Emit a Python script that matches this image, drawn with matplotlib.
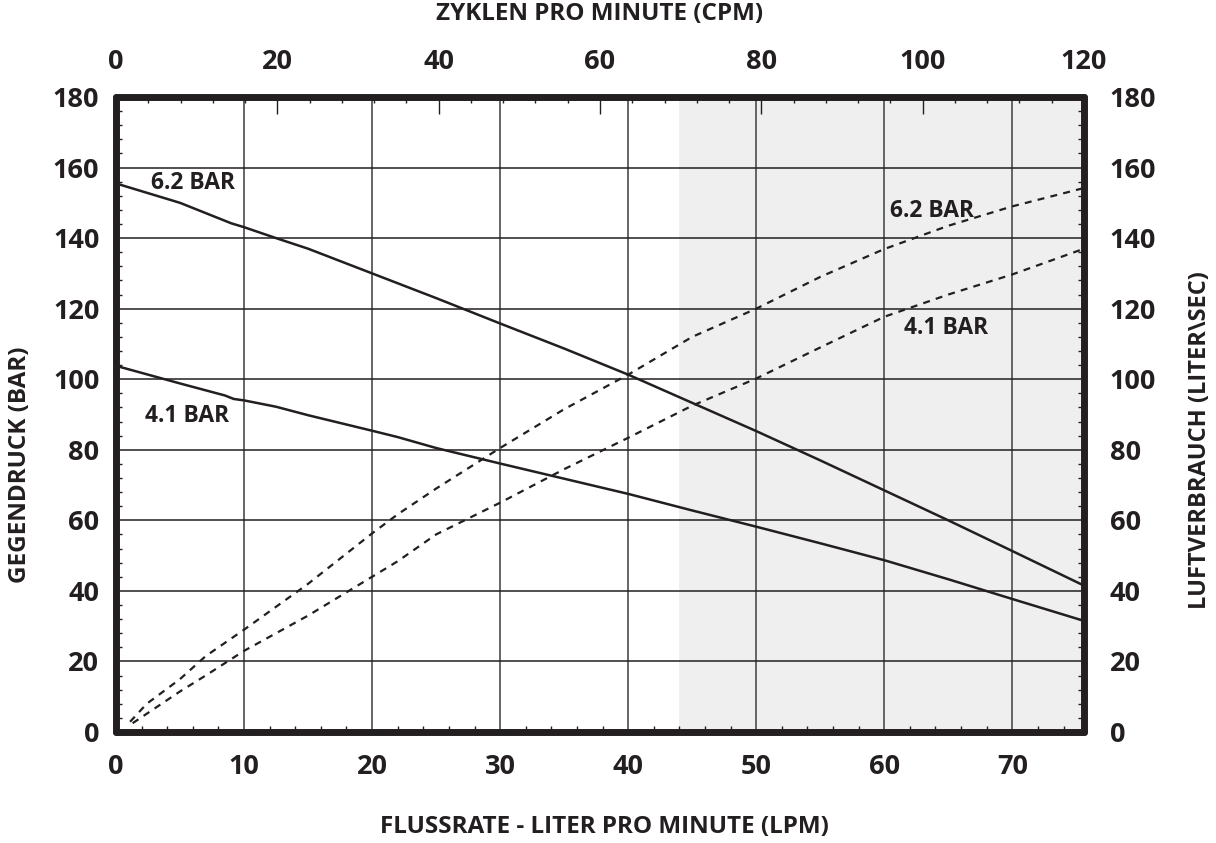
import matplotlib
matplotlib.use("Agg")
import matplotlib.pyplot as plt
from matplotlib.ticker import MultipleLocator

# ---------------- data ----------------
lpm_bp62 = [0, 5, 9, 10, 12.5, 15, 20, 25, 30, 35, 40, 45, 50, 55, 60, 65, 70, 75.6]
bp_62 = [155.5, 150, 144.2, 143.1, 140, 137, 130, 123, 115.8, 108.7, 101.3, 93.3, 85.3, 77, 68.5, 60, 51.3, 41.5]

lpm_bp41 = [0, 5, 8.5, 9.2, 10, 12.5, 15, 20, 22, 25, 30, 35, 40, 45, 50, 55, 60, 65, 70, 75.6]
bp_41 = [103.8, 98.8, 95.4, 94.4, 94.0, 92.2, 89.8, 85.4, 83.6, 80.5, 76.1, 71.8, 67.5, 62.8, 58.2, 53.5, 48.7, 43.3, 37.7, 31.5]

lpm_air62 = [1.1, 2.4, 5, 7, 10, 15, 20, 22, 25, 30, 35, 40, 45, 50, 55, 60, 65, 70, 75.6]
air_62 = [2.9, 8, 15, 21.5, 29, 42, 56.3, 61.7, 69, 80.5, 91.5, 101.3, 112, 120, 129, 136.9, 143.5, 149, 154.2]

lpm_air41 = [1.3, 5, 7, 10, 15, 20, 22, 25, 30, 35, 40, 45, 50, 55, 60, 65, 70, 75.6]
air_41 = [2.5, 11.5, 16, 23, 33, 44, 48.4, 56, 65, 74.5, 83.4, 92.5, 100.2, 109, 117.7, 124, 129.7, 137]

x_ticks = [0, 10, 20, 30, 40, 50, 60, 70]
cpm_ticks = [0, 20, 40, 60, 80, 100, 120]
y_ticks = [0, 20, 40, 60, 80, 100, 120, 140, 160, 180]
x_max = 75.6
cpm_max = 120
y_max = 180
shade_start = 44.0

labels_text = ["6.2 BAR", "4.1 BAR", "6.2 BAR", "4.1 BAR"]
labels_pos = [(6.0, 155.5), (5.55, 89.6), (63.75, 147.8), (64.8, 114.5)]

# ---------------- style ----------------
plt.rcParams['font.family'] = ['Open Sans', 'DejaVu Sans']
plt.rcParams['font.weight'] = 'bold'
plt.rcParams['lines.scale_dashes'] = False
INK = '#231f20'
TICK_FS = 19.5

W, H, DPI = 1216, 843, 100
fig = plt.figure(figsize=(W / DPI, H / DPI), dpi=DPI)
L, R, T, B = 116, 1084, 97, 732
ax = fig.add_axes([L / W, 1 - B / H, (R - L) / W, (B - T) / H])
ax.set_xlim(0, x_max)
ax.set_ylim(0, y_max)

ax.axvspan(shade_start, x_max, color='#efefef', zorder=0, lw=0)

for xv in x_ticks[1:]:
    ax.axvline(xv, color='#58595b', lw=1.3, zorder=1)
for yv in y_ticks[1:-1]:
    ax.axhline(yv, color=INK, lw=1.1, zorder=1)

ax.plot(lpm_bp62, bp_62, color=INK, lw=1.8, zorder=3)
ax.plot(lpm_bp41, bp_41, color=INK, lw=1.8, zorder=3)
ax.plot(lpm_air62, air_62, color=INK, lw=1.6, ls=(0, (5, 4.5)), zorder=3)
ax.plot(lpm_air41, air_41, color=INK, lw=1.6, ls=(0, (5, 4.5)), zorder=3)

for txt, (tx, ty) in zip(labels_text, labels_pos):
    ax.text(tx, ty, txt, ha='center', va='center', fontsize=16.5,
            fontweight='bold', color=INK, zorder=4)

for s in ax.spines.values():
    s.set_linewidth(5)
    s.set_color(INK)
    s.set_capstyle('round')
    s.set_zorder(5)

ax.xaxis.set_major_locator(plt.FixedLocator(x_ticks))
ax.xaxis.set_minor_locator(MultipleLocator(2))
ax.yaxis.set_major_locator(plt.FixedLocator(y_ticks))
ax.yaxis.set_minor_locator(MultipleLocator(4))
ax.tick_params(axis='x', which='major', direction='in', length=0, pad=16,
               labelsize=TICK_FS, labelcolor=INK)
ax.tick_params(axis='x', which='minor', direction='in', length=4.5, width=1, color=INK)
ax.tick_params(axis='y', which='major', direction='in', length=0, pad=12,
               labelsize=TICK_FS, labelcolor=INK)
ax.tick_params(axis='y', which='minor', direction='in', length=4.5, width=1, color=INK,
               left=True)

# top axis (CPM)
axt = ax.twiny()
axt.set_xlim(0, cpm_max)
axt.xaxis.set_major_locator(plt.FixedLocator(cpm_ticks))
axt.xaxis.set_minor_locator(MultipleLocator(4))
axt.tick_params(axis='x', which='major', direction='in', length=12, width=1, color=INK,
                pad=15.5, labelsize=TICK_FS, labelcolor=INK)
axt.tick_params(axis='x', which='minor', direction='in', length=4.5, width=1, color=INK)
for s in axt.spines.values():
    s.set_visible(False)

# right axis (air consumption)
axr = ax.twinx()
axr.set_ylim(0, y_max)
axr.yaxis.set_major_locator(plt.FixedLocator(y_ticks))
axr.yaxis.set_minor_locator(MultipleLocator(4))
axr.tick_params(axis='y', which='major', direction='in', length=0, pad=18.5,
                labelsize=TICK_FS, labelcolor=INK)
axr.tick_params(axis='y', which='minor', direction='in', length=4.5, width=1, color=INK)
for s in axr.spines.values():
    s.set_visible(False)

for a in (ax, axt, axr):
    for lab in a.get_xticklabels() + a.get_yticklabels():
        lab.set_fontweight('bold')

fig.text(604 / W, 1 - 827 / H, "FLUSSRATE - LITER PRO MINUTE (LPM)", ha='center', va='center',
         fontsize=17.5, fontweight='bold', color=INK)
fig.text(600 / W, 1 - 14 / H, "ZYKLEN PRO MINUTE (CPM)", ha='center', va='center',
         fontsize=17.5, fontweight='bold', color=INK)
fig.text(20 / W, 1 - 465 / H, "GEGENDRUCK (BAR)", ha='center', va='center', rotation=90,
         fontsize=17.5, fontweight='bold', color=INK)
fig.text(1200 / W, 1 - 440 / H, "LUFTVERBRAUCH (LITER\\SEC)", ha='center', va='center', rotation=90,
         fontsize=17, fontweight='bold', color=INK)

fig.savefig("out.png", dpi=DPI)
